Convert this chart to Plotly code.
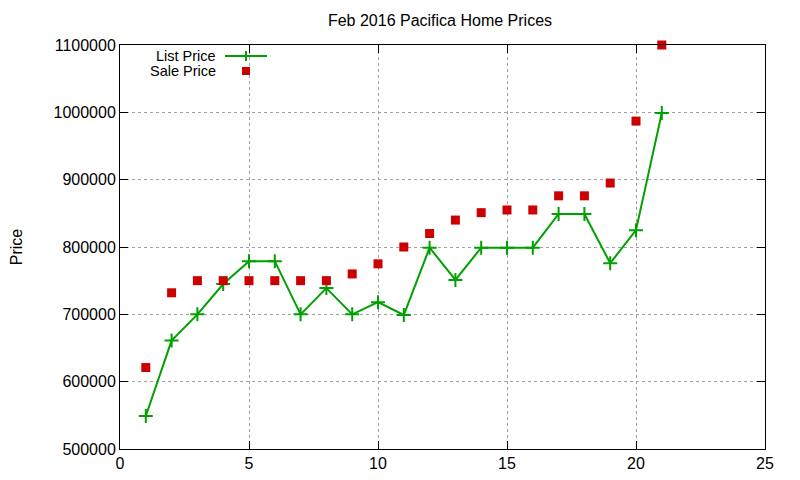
import plotly.graph_objects as go

listing = list(range(1, 22))
list_price = [549000, 661000, 700000, 745000, 779000, 779000, 700000, 739000, 700000, 718000,
              699000, 799000, 751000, 799000, 799000, 799000, 849000, 849000, 776000, 825000, 999000]
sale_price = [621000, 732000, 750000, 750000, 750000, 750000, 750000, 750000, 760000, 775000,
              800000, 820000, 840000, 851000, 855000, 855000, 876000, 876000, 895000, 987000, 1100000]

GREEN = "#00a000"
RED = "#cc0000"
FONT = "Liberation Sans, Arial, sans-serif"

# the page body has an 8px margin, so the figure is drawn 8px smaller
W, H, OFF = 792, 472, 8

fig = go.Figure()
fig.add_trace(go.Scatter(
    x=listing, y=list_price, name="List Price", mode="lines+markers",
    line=dict(color=GREEN, width=2),
    marker=dict(symbol="cross-thin", size=10, line=dict(color=GREEN, width=2)),
    cliponaxis=False,
))
fig.add_trace(go.Scatter(
    x=listing, y=sale_price, name="Sale Price", mode="markers",
    marker=dict(symbol="square", size=9, color=RED),
    cliponaxis=False,
))

axis = dict(
    showline=True, linecolor="black", linewidth=1, mirror="ticks",
    ticks="inside", ticklen=8, tickcolor="black",
    showgrid=True, gridcolor="#a0a0a0", griddash="dot", gridwidth=1,
    zeroline=False, tickfont=dict(size=16, color="black"), automargin=False,
)
fig.update_xaxes(range=[0, 25], dtick=5, **axis)
fig.update_yaxes(range=[500000, 1100000], dtick=100000, tickformat="d",
                 title=dict(text="Price", standoff=38, font=dict(size=16)), **axis)

fig.update_layout(
    width=W, height=H,
    margin=dict(l=120 - OFF, r=35, t=45 - OFF, b=31),
    paper_bgcolor="white", plot_bgcolor="white",
    font=dict(family=FONT, size=16, color="black"),
    title=dict(text="Feb 2016 Pacifica Home Prices", x=(440 - OFF) / W, xanchor="center",
               y=1 - (20 - OFF) / H, yanchor="middle", font=dict(size=16)),
    showlegend=False,
)


def px_x(p):
    return (p - 120) / 645


def px_y(p):
    return 1 - (p - 45) / 404


# legend drawn gnuplot-style: text on the left, sample on the right
for label, row in (("List Price", 56), ("Sale Price", 71)):
    fig.add_annotation(x=px_x(217), y=px_y(row), xref="paper", yref="paper", text=label,
                       showarrow=False, xanchor="right", yanchor="middle",
                       font=dict(size=14.5), height=14, borderpad=0)

fig.add_shape(type="line", xref="paper", yref="paper", x0=px_x(225), x1=px_x(267),
              y0=px_y(56), y1=px_y(56), line=dict(color=GREEN, width=2))
fig.add_shape(type="line", xref="paper", yref="paper", x0=px_x(246), x1=px_x(246),
              y0=px_y(51), y1=px_y(61), line=dict(color=GREEN, width=2))
fig.add_shape(type="rect", xref="paper", yref="paper", x0=px_x(242), x1=px_x(250),
              y0=px_y(67), y1=px_y(75), line=dict(width=0), fillcolor=RED)

fig.write_html("out.html")
